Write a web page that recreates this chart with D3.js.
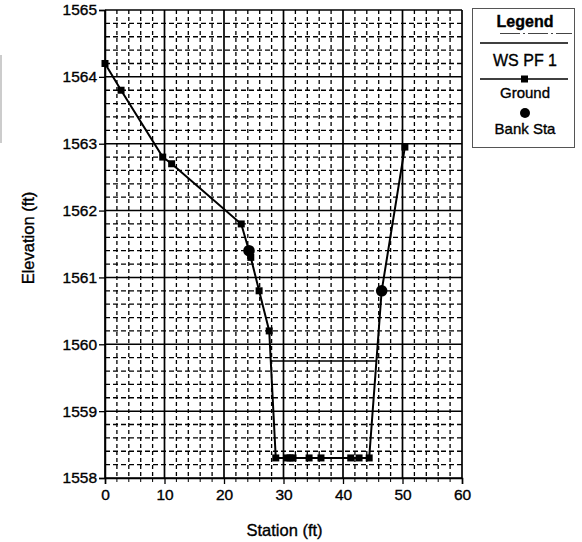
<!DOCTYPE html>
<html>
<head>
<meta charset="utf-8">
<script src="https://cdn.jsdelivr.net/npm/d3@7"></script>
<style>
  html, body { margin: 0; padding: 0; background: #fff; }
  svg { display: block; font-family: "Liberation Sans", Arial, Helvetica, sans-serif; }
  text { stroke: #000; stroke-width: 0.35px; }
</style>
</head>
<body>
<svg id="chart" width="582" height="542"></svg>
<script>
// ---- Data ----
const groundStation = [0, 2.7, 9.7, 11.2, 22.9, 24.2, 24.5, 25.9, 27.6, 28.7, 30.6, 31.1, 31.6, 34.3, 36.3, 41.3, 42.7, 44.4, 46.5, 50.4];
const groundElev    = [1564.2, 1563.8, 1562.8, 1562.7, 1561.8, 1561.4, 1561.3, 1560.8, 1560.2, 1558.3, 1558.3, 1558.3, 1558.3, 1558.3, 1558.3, 1558.3, 1558.3, 1558.3, 1560.8, 1562.95];
const bankStation = [24.2, 46.5];
const bankElev    = [1561.4, 1560.8];
const wsStation = [27.85, 45.6];
const wsElev    = [1559.75, 1559.75];
const xTicks = [0, 10, 20, 30, 40, 50, 60];
const yTicks = [1558, 1559, 1560, 1561, 1562, 1563, 1564, 1565];
const legendLabels = ["WS PF 1", "Ground", "Bank Sta"];

(function () {
// ---- Layout ----
const svg = d3.select("#chart");
const pL = 105, pR = 462, pT = 10, pB = 478;
const x = d3.scaleLinear().domain([0, 60]).range([pL, pR]);
const y = d3.scaleLinear().domain([1558, 1565]).range([pB, pT]);

// scan artifact on left edge
svg.append("line").attr("x1", 1).attr("x2", 1).attr("y1", 55).attr("y2", 143)
  .attr("stroke", "#bbb").attr("stroke-width", 1.5);

// ---- Grid ----
const g = svg.append("g");
const minorX = d3.range(0, 60.001, 2).filter(v => v % 10 !== 0);
const minorY = d3.range(1558, 1565.001, 0.2).map(v => +v.toFixed(1)).filter(v => Math.abs(v - Math.round(v)) > 1e-6);

g.selectAll(".mx").data(minorX).join("line")
  .attr("x1", d => x(d)).attr("x2", d => x(d)).attr("y1", pT).attr("y2", pB)
  .attr("stroke", "#000").attr("stroke-width", 1.3).attr("stroke-dasharray", "4,3");
g.selectAll(".my").data(minorY).join("line")
  .attr("x1", pL).attr("x2", pR).attr("y1", d => y(d)).attr("y2", d => y(d))
  .attr("stroke", "#000").attr("stroke-width", 1.3).attr("stroke-dasharray", "5,3");
g.selectAll(".Mx").data(xTicks).join("line")
  .attr("x1", d => x(d)).attr("x2", d => x(d)).attr("y1", pT).attr("y2", pB)
  .attr("stroke", "#000").attr("stroke-width", 1.7);
g.selectAll(".My").data(yTicks).join("line")
  .attr("x1", pL).attr("x2", pR).attr("y1", d => y(d)).attr("y2", d => y(d))
  .attr("stroke", "#000").attr("stroke-width", 1.5);

// ---- Axes ----
const xAxis = d3.axisBottom(x).tickValues(xTicks).tickSize(6).tickPadding(5).tickFormat(d3.format("d"));
const yAxis = d3.axisLeft(y).tickValues(yTicks).tickSize(6).tickPadding(2).tickFormat(d3.format("d"));
const xa = svg.append("g").attr("transform", `translate(0,${pB})`).call(xAxis);
const ya = svg.append("g").attr("transform", `translate(${pL},0)`).call(yAxis);
[xa, ya].forEach(a => {
  a.select(".domain").attr("stroke", "#000").attr("stroke-width", 1.5);
  a.selectAll(".tick line").attr("stroke", "#000").attr("stroke-width", 1.3);
  a.selectAll(".tick text").attr("fill", "#000").attr("font-size", 15.5)
    .attr("font-family", "'Liberation Sans', Arial, sans-serif");
});
// minor ticks on x axis
svg.append("g").selectAll("line").data(minorX).join("line")
  .attr("x1", d => x(d)).attr("x2", d => x(d)).attr("y1", pB).attr("y2", pB + 4)
  .attr("stroke", "#000").attr("stroke-width", 1);

// axis titles
svg.append("text").attr("x", (pL + pR) / 2 + 1).attr("y", 536)
  .attr("text-anchor", "middle").attr("font-size", 16.5).attr("fill", "#000").text("Station (ft)");
svg.append("text").attr("transform", `translate(34,${(pT + pB) / 2 - 6}) rotate(-90)`)
  .attr("text-anchor", "middle").attr("font-size", 16.5).attr("fill", "#000").text("Elevation (ft)");

// ---- Series ----
const ground = groundStation.map((s, i) => ({ s, e: groundElev[i] }));
const bank = bankStation.map((s, i) => ({ s, e: bankElev[i] }));
const ws = wsStation.map((s, i) => ({ s, e: wsElev[i] }));
const line = d3.line().x(d => x(d.s)).y(d => y(d.e));

svg.append("path").datum(ws).attr("d", line).attr("fill", "none")
  .attr("stroke", "#000").attr("stroke-width", 1.6);
svg.append("path").datum(ground).attr("d", line).attr("fill", "none")
  .attr("stroke", "#000").attr("stroke-width", 2);
svg.append("g").selectAll("rect").data(ground).join("rect")
  .attr("x", d => x(d.s) - 3.5).attr("y", d => y(d.e) - 3.5)
  .attr("width", 7).attr("height", 7).attr("fill", "#000");
svg.append("g").selectAll("circle").data(bank).join("circle")
  .attr("cx", d => x(d.s)).attr("cy", d => y(d.e)).attr("r", 5.8).attr("fill", "#000");

// ---- Legend ----
const lg = svg.append("g");
lg.append("rect").attr("x", 472.5).attr("y", 8.5).attr("width", 102).attr("height", 139)
  .attr("fill", "#fff").attr("stroke", "#555").attr("stroke-width", 1);
lg.append("text").attr("x", 525).attr("y", 27).attr("text-anchor", "middle")
  .attr("font-size", 16).attr("font-weight", "bold").attr("fill", "#000").text("Legend");
lg.append("line").attr("x1", 500).attr("x2", 572).attr("y1", 33.5).attr("y2", 33.5)
  .attr("stroke", "#444").attr("stroke-width", 1).attr("stroke-dasharray", "20,3,2,3");
lg.append("line").attr("x1", 480).attr("x2", 568).attr("y1", 43).attr("y2", 43)
  .attr("stroke", "#000").attr("stroke-width", 1.6);
lg.append("text").attr("x", 525).attr("y", 66).attr("text-anchor", "middle")
  .attr("font-size", 16).attr("fill", "#000").text(legendLabels[0]);
lg.append("line").attr("x1", 480).attr("x2", 568).attr("y1", 79).attr("y2", 79)
  .attr("stroke", "#000").attr("stroke-width", 1.6);
lg.append("rect").attr("x", 521).attr("y", 75.5).attr("width", 7).attr("height", 7).attr("fill", "#000");
lg.append("text").attr("x", 525).attr("y", 98).attr("text-anchor", "middle")
  .attr("font-size", 15).attr("fill", "#000").text(legendLabels[1]);
lg.append("circle").attr("cx", 525).attr("cy", 113).attr("r", 5).attr("fill", "#000");
lg.append("text").attr("x", 525).attr("y", 134).attr("text-anchor", "middle")
  .attr("font-size", 15).attr("fill", "#000").text(legendLabels[2]);
})();
</script>
</body>
</html>
